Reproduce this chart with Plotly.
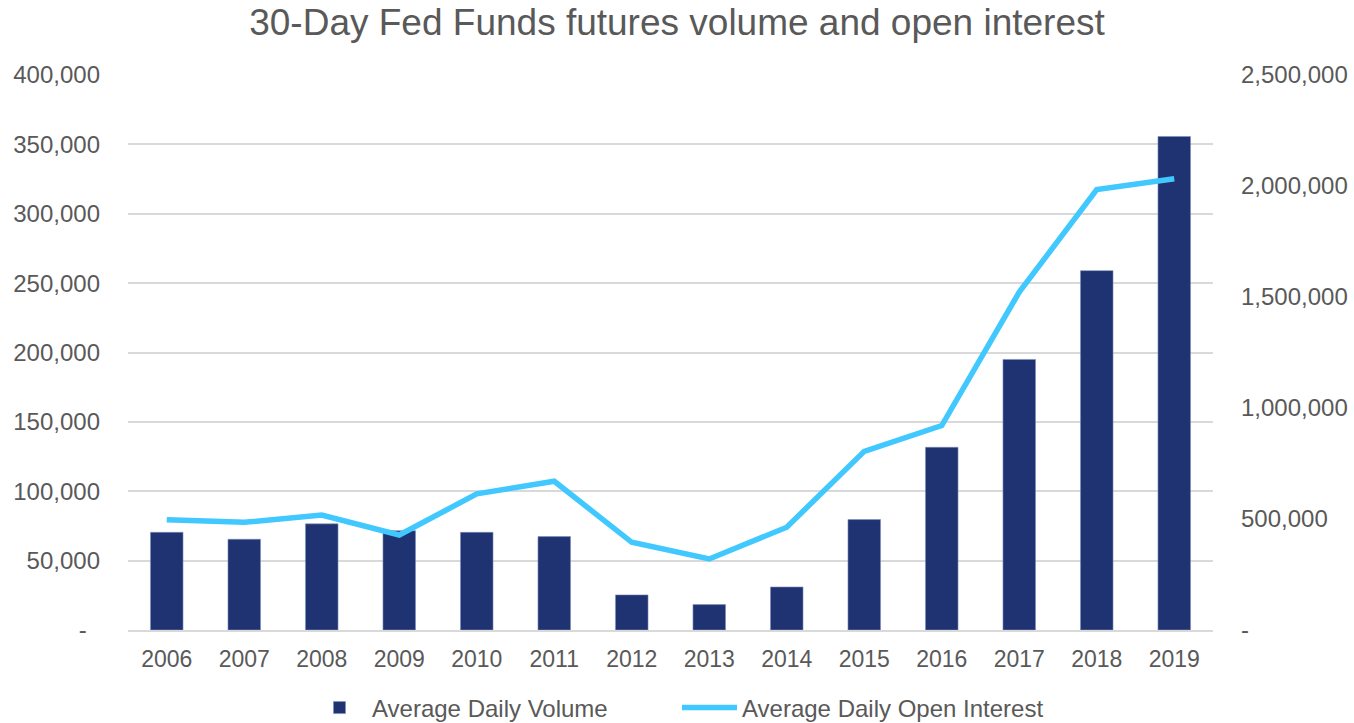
import plotly.graph_objects as go

years = ["2006", "2007", "2008", "2009", "2010", "2011", "2012",
         "2013", "2014", "2015", "2016", "2017", "2018", "2019"]
avg_daily_volume = [70400, 65400, 76500, 71600, 70400, 67300, 25300,
                    18300, 31000, 79600, 131700, 195000, 259000, 355700]
avg_daily_oi = [497000, 485000, 518000, 428000, 613000, 670000, 395000,
                320000, 463000, 805000, 921000, 1522000, 1984000, 2033000]

left_ticks = [0, 50000, 100000, 150000, 200000, 250000, 300000, 350000, 400000]
left_text = ["-\u00a0\u00a0", "50,000", "100,000", "150,000", "200,000",
             "250,000", "300,000", "350,000", "400,000"]
right_ticks = [0, 500000, 1000000, 1500000, 2000000, 2500000]
right_text = ["-", "500,000", "1,000,000", "1,500,000", "2,000,000", "2,500,000"]

FONT = "Liberation Sans, Arial, sans-serif"
GREY = "#595959"

fig = go.Figure()
fig.add_trace(go.Bar(
    x=years, y=avg_daily_volume, name="Average Daily Volume",
    marker=dict(color="#1F3272", line=dict(color="#8090B8", width=0.6)),
    yaxis="y"))
fig.add_trace(go.Scatter(
    x=years, y=avg_daily_oi, name="Average Daily Open Interest",
    mode="lines", line=dict(color="#40C8FF", width=5.5), yaxis="y2"))

fig.update_layout(
    width=1354, height=723,
    margin=dict(l=128, r=141, t=75, b=93),
    paper_bgcolor="white", plot_bgcolor="white",
    font=dict(family=FONT, color=GREY, size=23),
    title=dict(text="30-Day Fed Funds futures volume and open interest",
               x=0.5, xanchor="center", y=1 - 22 / 723, yanchor="middle",
               font=dict(size=37, color=GREY, family=FONT)),
    bargap=0.58,
    showlegend=True,
    legend=dict(orientation="h", x=0.5, xanchor="center", xref="container",
                y=1 - 708 / 723, yanchor="middle", yref="container",
                font=dict(size=24, color=GREY), itemwidth=55,
                entrywidth=300, traceorder="normal"),
    xaxis=dict(type="category", showgrid=False, showline=True,
               linecolor="#D9D9D9", linewidth=1.5, ticks="",
               tickfont=dict(size=23, color=GREY), ticklabelstandoff=8,
               automargin=False),
    yaxis=dict(range=[0, 400000], tickvals=left_ticks, ticktext=left_text,
               showgrid=True, gridcolor="#D9D9D9", gridwidth=1.5,
               zeroline=False, showline=False, ticks="",
               tickfont=dict(size=24, color=GREY), ticklabelstandoff=27,
               automargin=False),
    yaxis2=dict(range=[0, 2500000], tickvals=right_ticks, ticktext=right_text,
                overlaying="y", side="right", showgrid=False, zeroline=False,
                showline=False, ticks="",
                tickfont=dict(size=24, color=GREY), ticklabelstandoff=27,
                automargin=False),
)

fig.write_html("out.html", config={"displayModeBar": False},
               post_script="document.body.style.margin='0';document.body.style.padding='0';")
